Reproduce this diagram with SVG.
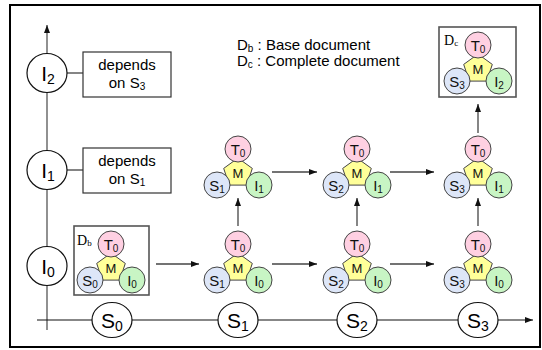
<svg xmlns="http://www.w3.org/2000/svg" width="542" height="350" viewBox="0 0 542 350">
  <style>
    .frame { fill: #ffffff; stroke: #000000; stroke-width: 2; }
    .axis { stroke: #555555; stroke-width: 1.3; fill: none; }
    .haxis { stroke: #111111; stroke-width: 1.2; fill: none; }
    .link { stroke: #333333; stroke-width: 1.2; fill: none; }
    .arrow { stroke: #444444; stroke-width: 1.3; fill: none; marker-end: url(#ah); }
    .axnode { fill: #ffffff; stroke: #111111; stroke-width: 1.2; }
    .box { fill: #ffffff; stroke: #333333; stroke-width: 1.2; }
    .docbox { fill: #ffffff; stroke: #555555; stroke-width: 1.6; }
    .big { font-family: "Liberation Sans", Arial, sans-serif; font-size: 21px; fill: #000000; text-anchor: middle; }
    .lbl { font-family: "Liberation Sans", Arial, sans-serif; font-size: 15px; fill: #000000; text-anchor: middle; }
    .leg { font-family: "Liberation Sans", Arial, sans-serif; font-size: 15px; fill: #000000; }
    .ser { font-family: "Liberation Serif", "Times New Roman", serif; font-size: 14px; fill: #000000; }
    .t { fill: #ffd0e2; stroke: #444444; stroke-width: 1; }
    .s { fill: #dde6f8; stroke: #444444; stroke-width: 1; }
    .i { fill: #c8f5c4; stroke: #444444; stroke-width: 1; }
    .m { fill: #ffff99; stroke: #444444; stroke-width: 1; }
    .ct { font-family: "Liberation Sans", Arial, sans-serif; font-size: 15px; fill: #111111; text-anchor: middle; }
    .mt { font-family: "Liberation Sans", Arial, sans-serif; font-size: 13px; fill: #111111; text-anchor: middle; }
  </style>
  <defs>
    <marker id="ah" markerWidth="8" markerHeight="6" refX="8" refY="3" orient="auto" markerUnits="userSpaceOnUse">
      <path d="M0,0 L8,3 L0,6 z" fill="#111111"/>
    </marker>
    <!-- one document: meta node M joined to T, S and I -->
    <g id="doc-core">
      <polygon class="m" points="0,-15 14.3,-4.6 8.8,12.1 -8.8,12.1 -14.3,-4.6"/>
      <text class="mt" x="0" y="5">M</text>
      <circle class="t" cx="0" cy="-24" r="13"/>
      <circle class="s" cx="-21" cy="12" r="13"/>
      <circle class="i" cx="21" cy="12" r="13"/>
    </g>
  </defs>

  <rect class="frame" x="10" y="5" width="530" height="342"/>

  <g id="connectors">
    <line class="axis" x1="47" y1="330" x2="47" y2="25" marker-end="url(#ah)"/>
    <line class="haxis" x1="37" y1="320" x2="533" y2="320" marker-end="url(#ah)"/>
    <line class="link" x1="67" y1="73" x2="83" y2="73"/>
    <line class="link" x1="67" y1="170" x2="83" y2="170"/>
    <!-- steps along S -->
    <line class="arrow" x1="156" y1="264" x2="199" y2="264"/>
    <line class="arrow" x1="272" y1="264" x2="317" y2="264"/>
    <line class="arrow" x1="390" y1="264" x2="434" y2="264"/>
    <line class="arrow" x1="272" y1="172" x2="317" y2="172"/>
    <line class="arrow" x1="390" y1="172" x2="434" y2="172"/>
    <!-- steps along I -->
    <line class="arrow" x1="238" y1="226" x2="238" y2="198"/>
    <line class="arrow" x1="357" y1="226" x2="357" y2="198"/>
    <line class="arrow" x1="478" y1="226" x2="478" y2="198"/>
    <line class="arrow" x1="478" y1="133" x2="478" y2="104"/>
  </g>

  <!-- I axis nodes -->
  <g id="axis-I2">
    <ellipse class="axnode" cx="47" cy="73" rx="20" ry="19.5"/>
    <text class="big" x="48" y="81">I<tspan font-size="14" dy="3">2</tspan></text>
  </g>
  <g id="axis-I1">
    <ellipse class="axnode" cx="47" cy="170" rx="20" ry="19.5"/>
    <text class="big" x="48" y="178">I<tspan font-size="14" dy="3">1</tspan></text>
  </g>
  <g id="axis-I0">
    <ellipse class="axnode" cx="47" cy="266" rx="20" ry="19.5"/>
    <text class="big" x="48" y="274">I<tspan font-size="14" dy="3">0</tspan></text>
  </g>

  <!-- S axis nodes -->
  <g id="axis-S0">
    <ellipse class="axnode" cx="112" cy="320" rx="20" ry="17.5"/>
    <text class="big" x="112" y="328">S<tspan font-size="14" dy="3">0</tspan></text>
  </g>
  <g id="axis-S1">
    <ellipse class="axnode" cx="238" cy="320" rx="20" ry="17.5"/>
    <text class="big" x="238" y="328">S<tspan font-size="14" dy="3">1</tspan></text>
  </g>
  <g id="axis-S2">
    <ellipse class="axnode" cx="357" cy="320" rx="20" ry="17.5"/>
    <text class="big" x="357" y="328">S<tspan font-size="14" dy="3">2</tspan></text>
  </g>
  <g id="axis-S3">
    <ellipse class="axnode" cx="478" cy="320" rx="20" ry="17.5"/>
    <text class="big" x="478" y="328">S<tspan font-size="14" dy="3">3</tspan></text>
  </g>

  <!-- dependency notes -->
  <g id="note-I2">
    <rect class="box" x="83" y="52" width="88" height="45"/>
    <text class="lbl" x="127" y="70">depends</text>
    <text class="lbl" x="127" y="88">on S<tspan font-size="10" dy="2">3</tspan></text>
  </g>
  <g id="note-I1">
    <rect class="box" x="83" y="148" width="88" height="45"/>
    <text class="lbl" x="127" y="166">depends</text>
    <text class="lbl" x="127" y="184">on S<tspan font-size="10" dy="2">1</tspan></text>
  </g>

  <!-- legend -->
  <g id="legend">
    <text class="leg" x="237" y="50">D<tspan font-size="10" dy="2">b</tspan><tspan dy="-2"> : Base document</tspan></text>
    <text class="leg" x="237" y="66">D<tspan font-size="10" dy="2">c</tspan><tspan dy="-2"> : Complete document</tspan></text>
  </g>

  <!-- base document -->
  <g id="doc-S0-I0">
    <rect class="docbox" x="74" y="226" width="75" height="69"/>
    <text class="ser" x="77" y="245">D<tspan font-size="9" dy="1">b</tspan></text>
    <use href="#doc-core" x="111" y="268"/>
    <g transform="translate(111,268)">
      <text class="ct" x="0" y="-18">T<tspan font-size="10" dy="2">0</tspan></text>
      <text class="ct" x="-21" y="18">S<tspan font-size="10" dy="2">0</tspan></text>
      <text class="ct" x="21" y="18">I<tspan font-size="10" dy="2">0</tspan></text>
    </g>
  </g>

  <g id="doc-S1-I0" transform="translate(238,268)">
    <use href="#doc-core"/>
    <text class="ct" x="0" y="-18">T<tspan font-size="10" dy="2">0</tspan></text>
    <text class="ct" x="-21" y="18">S<tspan font-size="10" dy="2">1</tspan></text>
    <text class="ct" x="21" y="18">I<tspan font-size="10" dy="2">0</tspan></text>
  </g>
  <g id="doc-S2-I0" transform="translate(357,268)">
    <use href="#doc-core"/>
    <text class="ct" x="0" y="-18">T<tspan font-size="10" dy="2">0</tspan></text>
    <text class="ct" x="-21" y="18">S<tspan font-size="10" dy="2">2</tspan></text>
    <text class="ct" x="21" y="18">I<tspan font-size="10" dy="2">0</tspan></text>
  </g>
  <g id="doc-S3-I0" transform="translate(478,268)">
    <use href="#doc-core"/>
    <text class="ct" x="0" y="-18">T<tspan font-size="10" dy="2">0</tspan></text>
    <text class="ct" x="-21" y="18">S<tspan font-size="10" dy="2">3</tspan></text>
    <text class="ct" x="21" y="18">I<tspan font-size="10" dy="2">0</tspan></text>
  </g>

  <g id="doc-S1-I1" transform="translate(238,173)">
    <use href="#doc-core"/>
    <text class="ct" x="0" y="-18">T<tspan font-size="10" dy="2">0</tspan></text>
    <text class="ct" x="-21" y="18">S<tspan font-size="10" dy="2">1</tspan></text>
    <text class="ct" x="21" y="18">I<tspan font-size="10" dy="2">1</tspan></text>
  </g>
  <g id="doc-S2-I1" transform="translate(357,173)">
    <use href="#doc-core"/>
    <text class="ct" x="0" y="-18">T<tspan font-size="10" dy="2">0</tspan></text>
    <text class="ct" x="-21" y="18">S<tspan font-size="10" dy="2">2</tspan></text>
    <text class="ct" x="21" y="18">I<tspan font-size="10" dy="2">1</tspan></text>
  </g>
  <g id="doc-S3-I1" transform="translate(478,173)">
    <use href="#doc-core"/>
    <text class="ct" x="0" y="-18">T<tspan font-size="10" dy="2">0</tspan></text>
    <text class="ct" x="-21" y="18">S<tspan font-size="10" dy="2">3</tspan></text>
    <text class="ct" x="21" y="18">I<tspan font-size="10" dy="2">1</tspan></text>
  </g>

  <!-- complete document -->
  <g id="doc-S3-I2">
    <rect class="docbox" x="439" y="27" width="77" height="70"/>
    <text class="ser" x="444" y="45">D<tspan font-size="9" dy="1">c</tspan></text>
    <g transform="translate(478,69)">
      <use href="#doc-core"/>
      <text class="ct" x="0" y="-18">T<tspan font-size="10" dy="2">0</tspan></text>
      <text class="ct" x="-21" y="18">S<tspan font-size="10" dy="2">3</tspan></text>
      <text class="ct" x="21" y="18">I<tspan font-size="10" dy="2">2</tspan></text>
    </g>
  </g>
</svg>
